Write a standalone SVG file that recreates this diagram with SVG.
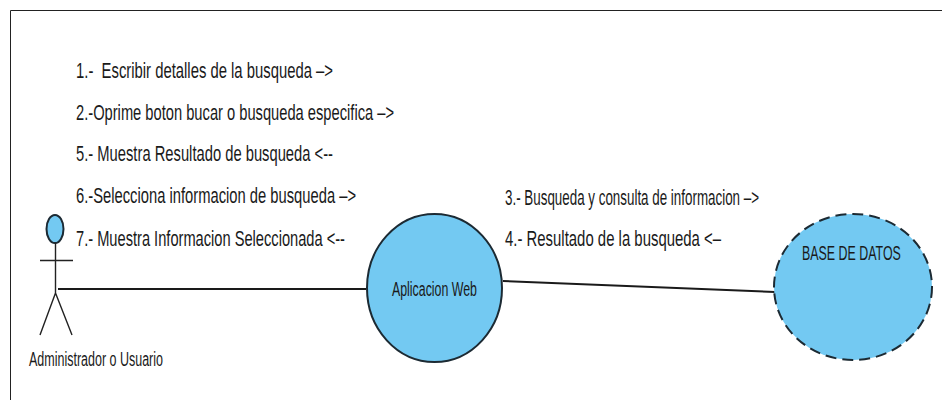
<svg xmlns="http://www.w3.org/2000/svg" width="942" height="400" viewBox="0 0 942 400">
<style>
text{font-family:"Liberation Sans",Arial,sans-serif;fill:#1a1a1a;white-space:pre}
.note{font-size:22px}
.small{font-size:19.500px}
.shape{fill:#73c9f2;stroke:#1c2a33;stroke-width:2}
.line{fill:none;stroke:#1a1a1a;stroke-width:2}
.thin{fill:none;stroke:#222;stroke-width:1.4}
</style>
<rect width="942" height="400" fill="#fff"/>
<path d="M10.500 400V10.500H942" fill="none" stroke="#222" stroke-width="1"/>
<g id="notes">
<text class="note" x="76" y="78" textLength="257" lengthAdjust="spacingAndGlyphs">1.-  Escribir detalles de la busqueda –&gt;</text>
<text class="note" x="76" y="120" textLength="318" lengthAdjust="spacingAndGlyphs">2.-Oprime boton bucar o busqueda especifica –&gt;</text>
<text class="note" x="76" y="161" textLength="257" lengthAdjust="spacingAndGlyphs">5.- Muestra Resultado de busqueda &lt;--</text>
<text class="note" x="76" y="203" textLength="280" lengthAdjust="spacingAndGlyphs">6.-Selecciona informacion de busqueda –&gt;</text>
<text class="note" x="76" y="246" textLength="269" lengthAdjust="spacingAndGlyphs">7.- Muestra Informacion Seleccionada &lt;--</text>
<text class="note" x="505" y="205" textLength="254" lengthAdjust="spacingAndGlyphs">3.- Busqueda y consulta de informacion –&gt;</text>
<text class="note" x="505" y="246" textLength="216" lengthAdjust="spacingAndGlyphs">4.- Resultado de la busqueda &lt;–</text>
</g>
<g id="connectors">
<path class="line" d="M58 289H366"/>
<path class="line" d="M503 281L775 292"/>
</g>
<g id="actor">
<ellipse class="shape" cx="55" cy="229" rx="8.500" ry="14"/>
<path class="thin" d="M40 260.500H73M55.500 243V293M55.500 293L40 335M55.500 293L72 335"/>
<text class="small" x="29" y="366" textLength="134" lengthAdjust="spacingAndGlyphs">Administrador o Usuario</text>
</g>
<g id="aplicacion-web">
<ellipse class="shape" cx="434.500" cy="288" rx="67.500" ry="74"/>
<text class="small" x="392" y="296" textLength="85" lengthAdjust="spacingAndGlyphs">Aplicacion Web</text>
</g>
<g id="base-de-datos">
<ellipse class="shape" cx="853" cy="287" rx="79" ry="73" stroke-dasharray="11 6"/>
<text class="small" transform="translate(802 260) scale(.637 1)">BASE DE DATOS</text>
</g>
</svg>
